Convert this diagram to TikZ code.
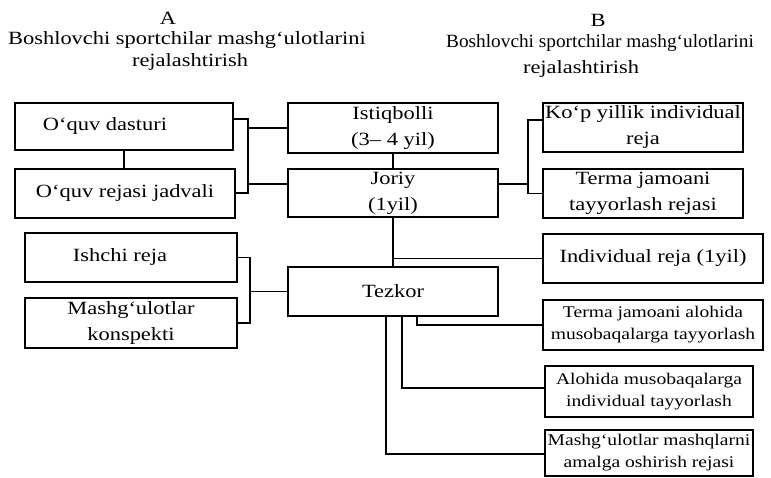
\documentclass[tikz,border=0pt]{standalone}
\usepackage{graphicx}
\usepackage{fontspec}
\setmainfont{Liberation Serif}[FakeStretch=1.2]
\newcommand\bigtxt{\fontsize{18.7}{26}\selectfont}
\newcommand\smalltxt{\fontsize{16.3}{22}\selectfont}
\tikzset{
  box/.style={draw, line width=1.3pt, inner sep=0pt, align=center, font=\bigtxt},
  sbox/.style={box, font=\smalltxt},
  link/.style={draw, line width=1.3pt},
  ttl/.style={anchor=base, inner sep=0pt, font=\bigtxt}
}
\begin{document}
\begin{tikzpicture}[x=1pt,y=-1pt]
\useasboundingbox[fill=white] (0,0) rectangle (771,478);

% titles
\node[ttl] (ta) at (168,25) {A};
\node[ttl] (ta2) at (187,45) {Boshlovchi sportchilar mashg`ulotlarini};
\node[ttl] (ta3) at (190,67) {rejalashtirish};
\node[ttl] (tb) at (598,27) {B};
\node[ttl] (tb2) at (600,48) {\scalebox{0.86}[1]{Boshlovchi sportchilar mashg‘ulotlarini}};
\node[ttl] (tb3) at (581,74) {rejalashtirish};

% left boxes
\node[box, minimum width=218pt, minimum height=47pt] (od) at (124,126.5) {O‘quv dasturi\hspace*{38pt}};
\node[box, minimum width=220pt, minimum height=49pt] (orj) at (125,193.5) {O‘quv rejasi jadvali};
\node[box, minimum width=212pt, minimum height=49pt] (ish) at (131,257.5) {Ishchi reja\hspace*{22pt}};
\node[box, minimum width=212pt, minimum height=50pt] (kon) at (131,323) {Mashg‘ulotlar\\konspekti};

% middle boxes
\node[box, minimum width=210pt, minimum height=50pt] (ist) at (393,128) {Istiqbolli\\(3– 4 yil)};
\node[box, minimum width=210pt, minimum height=48pt] (jor) at (393,193) {Joriy\\(1yil)};
\node[box, minimum width=210pt, minimum height=49pt] (tez) at (393,291.5) {Tezkor};

% right boxes
\node[box, minimum width=200pt, minimum height=49pt] (kop) at (643,127.5) {Ko‘p yillik individual\\reja};
\node[box, minimum width=200pt, minimum height=49pt] (ter) at (643,193.5) {Terma jamoani\\tayyorlash rejasi};
\node[box, minimum width=220pt, minimum height=49pt] (ind) at (653,258.5) {Individual reja (1yil)};
\node[sbox, minimum width=220pt, minimum height=50pt] (tja) at (653,325) {Terma jamoani alohida\\musobaqalarga tayyorlash};
\node[sbox, minimum width=208pt, minimum height=51pt] (alo) at (649,391.5) {Alohida musobaqalarga\\individual tayyorlash};
\node[sbox, minimum width=208pt, minimum height=46pt] (mmq) at (649,453) {Mashg`ulotlar mashqlarni\\amalga oshirish rejasi};

% junction coordinates
\coordinate (bL) at (248,119);
\coordinate (bR) at (528,120);
\coordinate (bT) at (250,258);

% left upper group
\draw[link] (od.south) -- (od.south |- orj.north);
\draw[link] (od.east |- bL) -- (bL) -- (bL |- 0,193) -- (orj.east |- 0,193);
\draw[link] (bL |- ist.west) -- (ist.west);
\draw[link] (bL |- 0,184) -- (jor.west |- 0,184);

% middle column
\draw[link] (ist.south) -- (jor.north);
\draw[link] (jor.south) -- (tez.north);
\draw[link] (jor.south |- ind.west) -- (ind.west);

% right upper group
\draw[link] (jor.east |- 0,184) -- (bR |- 0,184);
\draw[link] (kop.west |- bR) -- (bR) -- (bR |- ter.west) -- (ter.west);

% left lower group
\draw[link] (ish.east) -| (bT |- kon.east) -- (kon.east);
\draw[link] (bT |- tez.west) -- (tez.west);

% tezkor outputs
\draw[link] (tez.south -| 417,0) |- (tja.west);
\draw[link] (tez.south -| 402,0) |- (alo.west |- 0,388);
\draw[link] (tez.south -| 386,0) |- (mmq.west |- 0,454);
\end{tikzpicture}
\end{document}
